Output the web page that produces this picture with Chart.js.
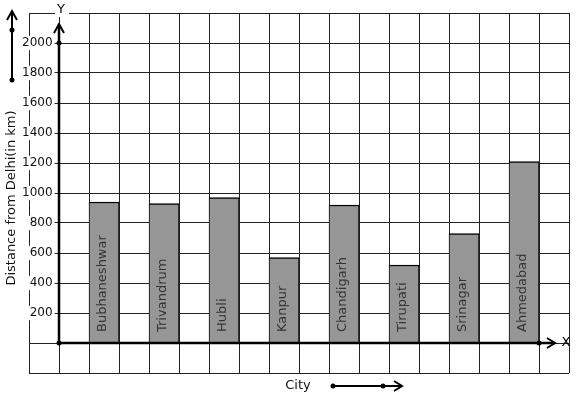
<!DOCTYPE html>
<html>
<head>
<meta charset="utf-8">
<script src="https://cdn.jsdelivr.net/npm/chart.js@4/dist/chart.umd.min.js"></script>
<style>
  html, body { margin: 0; padding: 0; background: #fff; }
  canvas { display: block; }
</style>
</head>
<body>
<canvas id="distanceChart" width="577" height="399"></canvas>
<script>
// chart data
const cities = ['Bubhaneshwar', 'Trivandrum', 'Hubli', 'Kanpur', 'Chandigarh', 'Tirupati', 'Srinagar', 'Ahmedabad'];
const distances = [940, 930, 970, 570, 920, 520, 730, 1210];
const yTickValues = [200, 400, 600, 800, 1000, 1200, 1400, 1600, 1800, 2000];
const yTitle = 'Distance from Delhi(in km)';
const xTitle = 'City';

// graph paper: two empty columns before the first bar, one between bars, one at the end
const slotLabels = ['', ''];
const slotValues = [null, null];
cities.forEach((city, i) => {
    slotLabels.push(city, '');
    slotValues.push(distances[i], null);
});

const FONT = '"DejaVu Sans", sans-serif';

function dot(ctx, x, y) {
    ctx.beginPath();
    ctx.arc(x, y, 2.5, 0, Math.PI * 2);
    ctx.fill();
}

function arrowHead(ctx, x, y, dir) {
    ctx.beginPath();
    if (dir === 'up') {
        ctx.moveTo(x - 5, y + 9);
        ctx.lineTo(x, y);
        ctx.lineTo(x + 5, y + 9);
    } else {
        ctx.moveTo(x - 8, y - 5);
        ctx.lineTo(x, y);
        ctx.lineTo(x - 8, y + 5);
    }
    ctx.stroke();
}

// city names written up the bars
const barLabels = {
    id: 'barLabels',
    afterDatasetsDraw(chart) {
        const ctx = chart.ctx;
        const base = chart.scales.y.getPixelForValue(0);
        ctx.save();
        ctx.font = '13px ' + FONT;
        ctx.fillStyle = '#333';
        ctx.textAlign = 'left';
        ctx.textBaseline = 'middle';
        chart.getDatasetMeta(0).data.forEach((bar, i) => {
            if (slotValues[i] === null) return;
            ctx.save();
            ctx.translate(bar.x - 1, base - 11);
            ctx.rotate(-Math.PI / 2);
            ctx.fillText(slotLabels[i], 0, 0);
            ctx.restore();
        });
        ctx.restore();
    }
};

// axes with arrows, dots and titles like the textbook drawing
const axisDecor = {
    id: 'axisDecor',
    afterDraw(chart) {
        const ctx = chart.ctx;
        const xs = chart.scales.x;
        const ys = chart.scales.y;
        const ox = (xs.getPixelForValue(0) + xs.getPixelForValue(1)) / 2;
        const oy = ys.getPixelForValue(0);
        const top2000 = ys.getPixelForValue(2000);
        const yTip = top2000 - 19;
        const xEnd = (xs.getPixelForValue(16) + xs.getPixelForValue(17)) / 2;
        const xTip = xs.right - 14;

        ctx.save();
        ctx.strokeStyle = '#000';
        ctx.fillStyle = '#000';
        ctx.lineCap = 'butt';

        // Y axis
        ctx.lineWidth = 2.5;
        ctx.beginPath();
        ctx.moveTo(ox, oy);
        ctx.lineTo(ox, yTip);
        ctx.stroke();
        ctx.lineWidth = 2;
        arrowHead(ctx, ox, yTip, 'up');
        dot(ctx, ox, top2000);

        // X axis
        ctx.lineWidth = 2.5;
        ctx.beginPath();
        ctx.moveTo(ox, oy);
        ctx.lineTo(xTip, oy);
        ctx.stroke();
        ctx.lineWidth = 2;
        arrowHead(ctx, xTip, oy, 'right');
        dot(ctx, ox, oy);
        dot(ctx, xEnd, oy);

        // axis letters
        ctx.font = '13px ' + FONT;
        ctx.textAlign = 'center';
        ctx.textBaseline = 'middle';
        ctx.fillStyle = '#fff';
        ctx.fillRect(ox - 4, ys.top - 4, 14, 8);
        ctx.fillStyle = '#000';
        ctx.fillText('Y', ox + 2, ys.top - 3);
        ctx.fillText('X', xs.right - 3, oy);

        // left arrow beside the y title
        ctx.lineWidth = 2;
        ctx.beginPath();
        ctx.moveTo(12, 80);
        ctx.lineTo(12, 11);
        ctx.stroke();
        arrowHead(ctx, 12, 11, 'up');
        dot(ctx, 12, 30);
        dot(ctx, 12, 80);

        // y title
        ctx.save();
        ctx.translate(12, 198);
        ctx.rotate(-Math.PI / 2);
        ctx.font = '13px ' + FONT;
        ctx.fillStyle = '#111';
        ctx.fillText(yTitle, 0, 0);
        ctx.restore();

        // x title with arrow
        ctx.fillStyle = '#111';
        ctx.fillText(xTitle, 298, 386);
        ctx.fillStyle = '#000';
        ctx.beginPath();
        ctx.moveTo(333, 386);
        ctx.lineTo(402, 386);
        ctx.stroke();
        arrowHead(ctx, 402, 386, 'right');
        dot(ctx, 333, 386);
        dot(ctx, 383, 386);

        ctx.restore();
    }
};

const canvas = document.getElementById('distanceChart');

new Chart(canvas, {
    type: 'bar',
    data: {
        labels: slotLabels,
        datasets: [{
            label: 'Distance',
            data: slotValues,
            backgroundColor: '#969696',
            borderColor: '#000',
            borderWidth: { top: 1.5, left: 1, right: 1, bottom: 0 },
            borderSkipped: 'bottom',
            barPercentage: 1,
            categoryPercentage: 1
        }]
    },
    options: {
        responsive: false,
        animation: false,
        devicePixelRatio: 1,
        layout: { padding: { left: 29, right: 8, top: 13, bottom: 26 } },
        plugins: {
            legend: { display: false },
            tooltip: { enabled: false }
        },
        scales: {
            x: {
                type: 'category',
                offset: true,
                grid: { color: '#222', lineWidth: 1, offset: true, drawTicks: false },
                border: { display: false },
                ticks: { display: false }
            },
            y: {
                type: 'linear',
                position: 'left',
                min: -200,
                max: 2200,
                afterFit(scale) { scale.width = 0; },
                grid: { color: '#222', lineWidth: 1, drawTicks: false },
                border: { display: false },
                ticks: {
                    stepSize: 200,
                    mirror: true,
                    crossAlign: 'far',
                    padding: -7,
                    z: 1,
                    color: '#111',
                    font: { family: FONT, size: 12 },
                    callback: (v) => yTickValues.includes(v) ? String(v) : '',
                    showLabelBackdrop: (c) => yTickValues.includes(c.tick.value),
                    backdropColor: '#fff',
                    backdropPadding: { left: 2, right: 2, top: 0, bottom: 0 }
                }
            }
        }
    },
    plugins: [barLabels, axisDecor]
});
</script>
</body>
</html>
